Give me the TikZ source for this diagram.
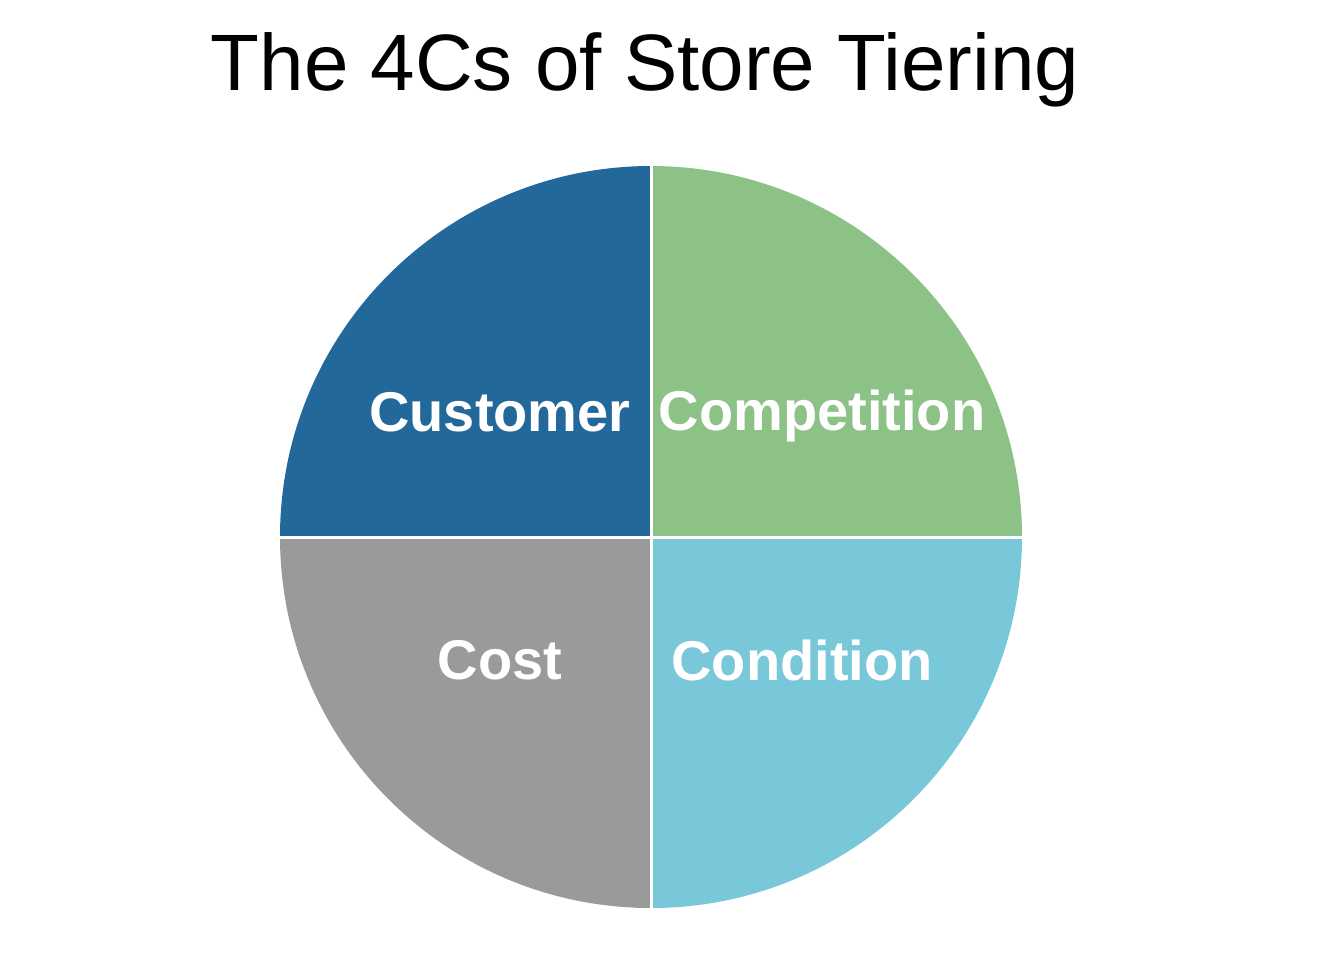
\documentclass[tikz,border=0pt]{standalone}
\usepackage{fontspec}
\setmainfont{Liberation Sans}
\definecolor{cblue}{HTML}{23689A}
\definecolor{cgreen}{HTML}{8CC285}
\definecolor{ccyan}{HTML}{78C8DA}
\definecolor{cgray}{HTML}{9A9A9A}
\tikzset{slice/.style={draw=white,line width=1.5pt},
lab/.style={text=white,font=\fontsize{28}{32}\selectfont\bfseries}}
\begin{document}
\begin{tikzpicture}[x=0.5pt,y=-0.5pt]
\useasboundingbox (0,0) rectangle (1333,966);
\coordinate (c) at (651,537);
\fill[cblue] (c) -- (280,537) arc[start angle=180,end angle=90,x radius=371,y radius=-371] -- cycle;
\fill[cgreen] (c) -- (651,166) arc[start angle=90,end angle=0,x radius=371,y radius=-371] -- cycle;
\fill[ccyan] (c) -- (1022,537) arc[start angle=0,end angle=-90,x radius=371,y radius=-371] -- cycle;
\fill[cgray] (c) -- (651,908) arc[start angle=-90,end angle=-180,x radius=371,y radius=-371] -- cycle;
\draw[slice] (280,537) -- (1022,537);
\draw[slice] (651,160) -- (651,914);
\node[font=\fontsize{40}{46}\selectfont] (t) at (645,70) {The 4Cs of Store Tiering};
\node[lab] (a) at (500,412) {Customer};
\node[lab] (b) at (822,416) {Competition};
\node[lab] (d) at (500,660) {Cost};
\node[lab] (e) at (802,660) {Condition};
\end{tikzpicture}
\end{document}
